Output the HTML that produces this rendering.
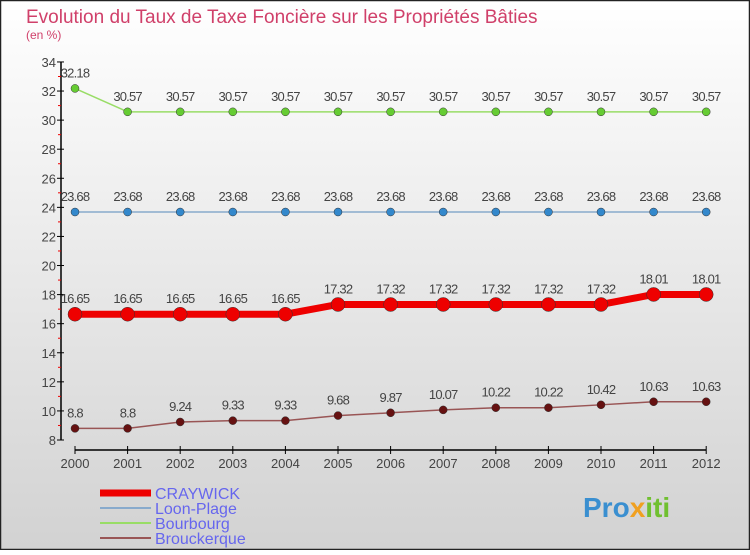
<!DOCTYPE html>
<html><head><meta charset="utf-8"><style>
html,body{margin:0;padding:0}
body{width:750px;height:550px;overflow:hidden;font-family:"Liberation Sans",sans-serif}
</style></head><body>
<svg width="750" height="550" xmlns="http://www.w3.org/2000/svg" id="svg">
<defs><linearGradient id="bg" x1="0" y1="0" x2="0" y2="1"><stop offset="0" stop-color="#ffffff"/><stop offset="1" stop-color="#d2d2d2"/></linearGradient></defs>
<rect x="0.5" y="0.5" width="749" height="549" fill="url(#bg)" stroke="#222" stroke-width="1.5"/>
<text x="26" y="23" font-size="19" fill="#d0406a">Evolution du Taux de Taxe Foncière sur les Propriétés Bâties</text>
<text x="26" y="39" font-size="12" fill="#d0406a">(en %)</text>
<g id="axes"></g><g id="series"></g><g id="legend"></g>
<text x="583" y="517" font-size="28" font-weight="bold" fill="#3a8fd0">Pro<tspan fill="#f0a020">x</tspan><tspan fill="#70c030">iti</tspan></text>
</svg>
<script>
const years=[2000,2001,2002,2003,2004,2005,2006,2007,2008,2009,2010,2011,2012];
const craywick=[16.65,16.65,16.65,16.65,16.65,17.32,17.32,17.32,17.32,17.32,17.32,18.01,18.01];
const loon=[23.68,23.68,23.68,23.68,23.68,23.68,23.68,23.68,23.68,23.68,23.68,23.68,23.68];
const bourbourg=[32.18,30.57,30.57,30.57,30.57,30.57,30.57,30.57,30.57,30.57,30.57,30.57,30.57];
const brouck=[8.8,8.8,9.24,9.33,9.33,9.68,9.87,10.07,10.22,10.22,10.42,10.63,10.63];
const yTicks=[8,10,12,14,16,18,20,22,24,26,28,30,32,34];
const NS="http://www.w3.org/2000/svg";
const X=i=>75+i*52.6, Y=v=>440-(v-8)*14.54;
function mk(p,t,a){const e=document.createElementNS(NS,t);for(const k in a)e.setAttribute(k,a[k]);p.appendChild(e);return e;}
const ax=document.getElementById('axes');
let e=mk(ax,'line',{x1:61,y1:Y(34),x2:61,y2:Y(8),stroke:'#000','stroke-width':1.5});

e=mk(ax,'line',{x1:75,y1:450,x2:706,y2:450,stroke:'#000','stroke-width':1.5});

yTicks.forEach(v=>{
 mk(ax,'line',{x1:57,y1:Y(v),x2:64,y2:Y(v),stroke:'#000'});
 if(v<34)mk(ax,'line',{x1:58,y1:Y(v+1),x2:61,y2:Y(v+1),stroke:'#e00'});
 const t=mk(ax,'text',{x:56,y:Y(v)+5,'text-anchor':'end','font-size':13,fill:'#444'});t.textContent=v;
 
});
years.forEach((y,i)=>{
 mk(ax,'line',{x1:X(i),y1:446,x2:X(i),y2:454,stroke:'#000'});
 const t=mk(ax,'text',{x:X(i),y:468,'text-anchor':'middle','font-size':13,fill:'#444'});t.textContent=y;
 
});
const sg=document.getElementById('series');
function series(name,vals,color,w,r,dot){
 const g=mk(sg,'g',{});
 mk(g,'polyline',{points:vals.map((v,i)=>X(i)+','+Y(v)).join(' '),fill:'none',stroke:color,'stroke-width':w,'stroke-linejoin':'round'});
 vals.forEach((v,i)=>{
  const c=mk(g,'circle',{cx:X(i),cy:Y(v),r:r,fill:dot,stroke:'#333','stroke-width':0.5});
  
  const t=mk(g,'text',{x:X(i),y:Y(v)-11,'text-anchor':'middle','font-size':13,fill:'#444','letter-spacing':'-0.8'});t.textContent=v;
  
 });
}
series('bourbourg',bourbourg,'#99dd66',1.5,4,'#66cc33');
series('loon-plage',loon,'#88aacc',1.5,4,'#3388cc');
series('brouckerque',brouck,'#995555',1.5,4,'#661111');
series('craywick',craywick,'#ee0000',7,7,'#ee0000');
const lg=document.getElementById('legend');
[['CRAYWICK','#ee0000',7],['Loon-Plage','#88aacc',2],['Bourbourg','#99dd66',2],['Brouckerque','#995555',2]].forEach((d,i)=>{
 const y=493+i*15;
 const g=mk(lg,'g',{});
 mk(g,'line',{x1:100,y1:y,x2:151,y2:y,stroke:d[1],'stroke-width':d[2]});
 const t=mk(g,'text',{x:155,y:y+6,'font-size':16,fill:'#6666ee'});t.textContent=d[0];
});
</script>
</body></html>
